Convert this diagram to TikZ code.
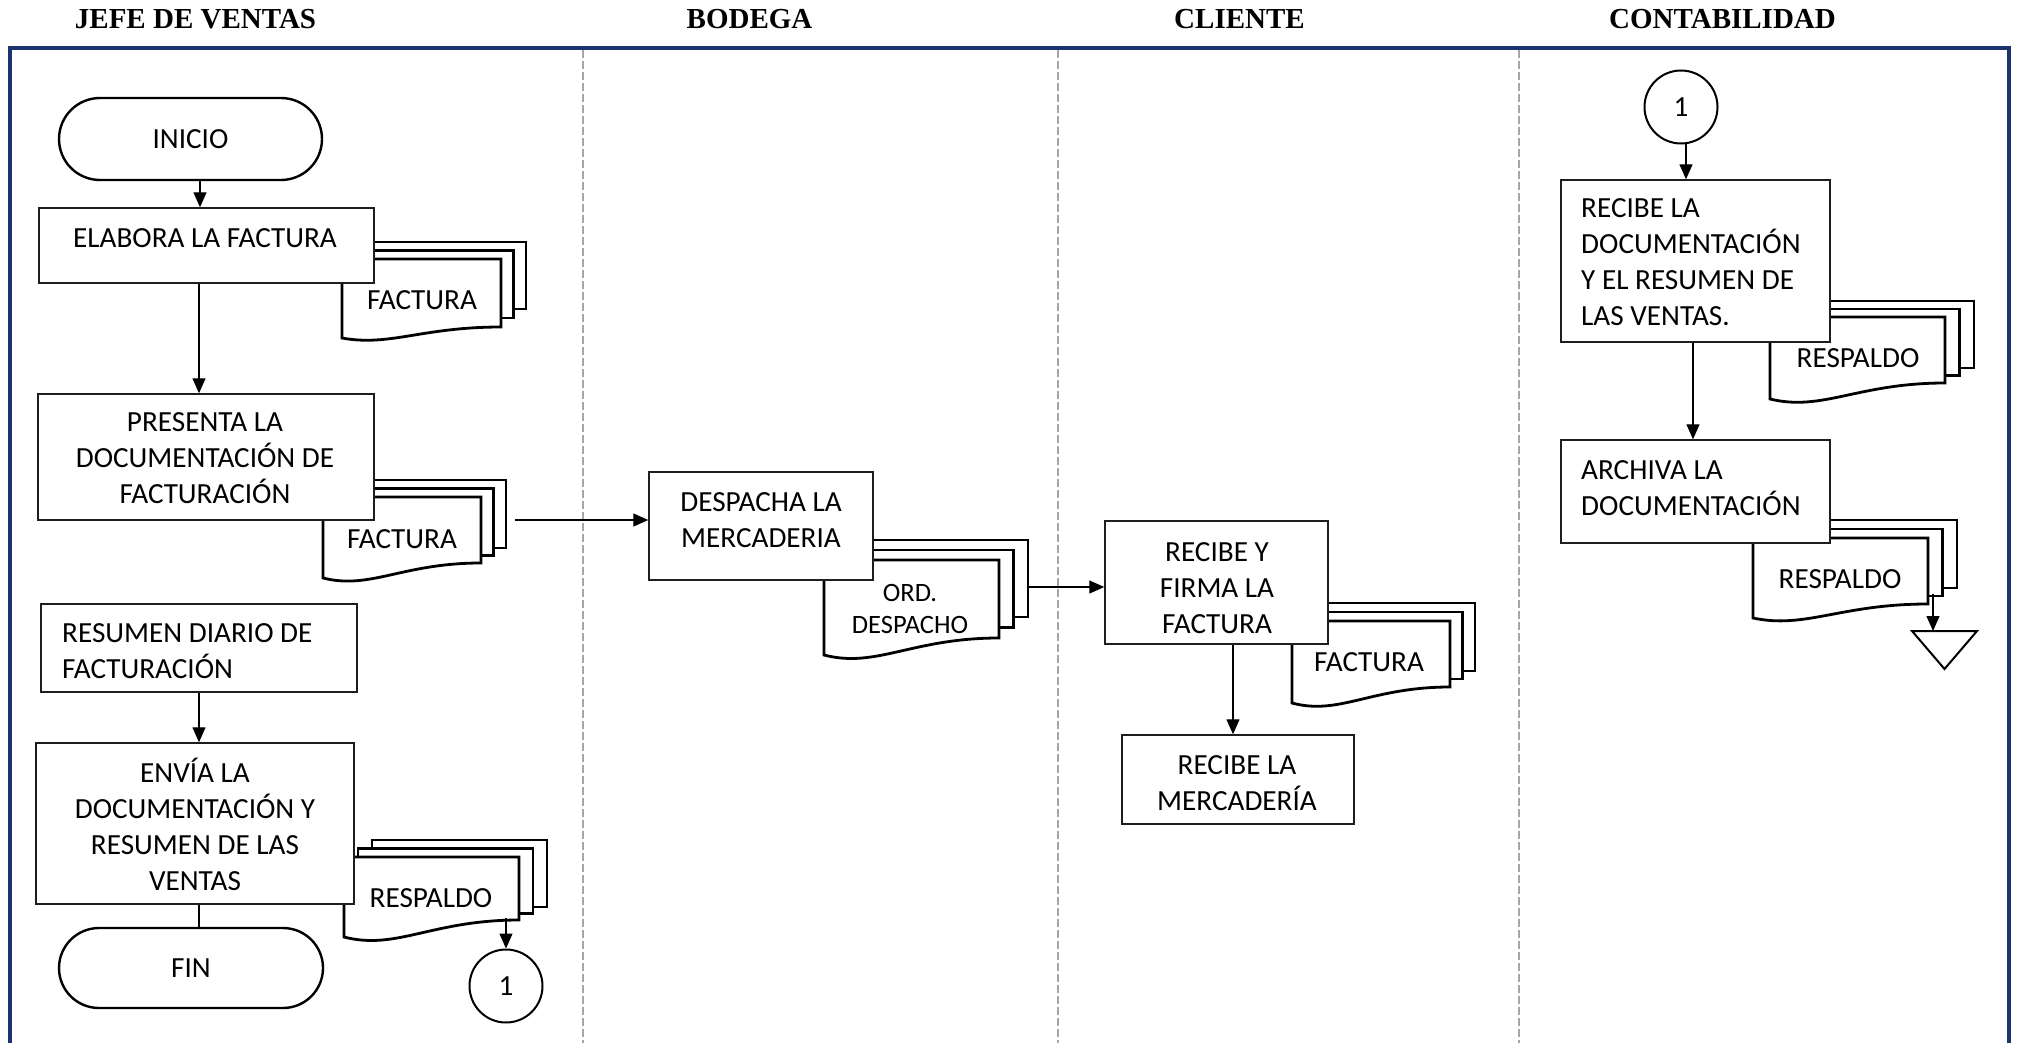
\documentclass[tikz,border=0pt]{standalone}
\usepackage{fontspec}
\setmainfont{Carlito}
\newfontfamily\hdrfont{Liberation Serif}
\usetikzlibrary{arrows.meta,calc}
\definecolor{navy}{RGB}{28,52,110}
\definecolor{lanegray}{RGB}{166,166,166}
\definecolor{ink}{RGB}{30,30,30}
% strut fixing the first baseline 26pt below the top of a text node
\newcommand\tst{\rule{0pt}{26pt}}
\newcommand\bx{\fontsize{29.2}{36}\selectfont}
\newcommand\bxs{\fontsize{26.5}{32}\selectfont}
% stack of three documents: #1 left, #2 top, #3 right, #4 right bottom,
% #5 left bottom, #6 x step, #7 y step, #8 bottom step of the back sheets
\newcommand\docstack[8]{%
  \foreach \k in {2,1}{%
    \draw[doc] ({#1+\k*#6},{#2-\k*#7}) rectangle ({#3+\k*#6},{#4-\k*#8});
  }%
  \draw[doc] (#1,#2) -- (#3,#2) -- (#3,#4)
    .. controls ({#3-0.5*(#3-#1)},#4) and ({#1+0.3*(#3-#1)},{#5+0.8*(#5-#4)}) .. (#1,#5) -- cycle;
}
\begin{document}
\begin{tikzpicture}[x=1pt,y=-1pt,
  hdr/.style={font=\hdrfont\bfseries\fontsize{29}{34}\selectfont, anchor=base, inner sep=0pt},
  proc/.style={draw=ink, line width=1.4pt, fill=white, inner sep=0pt},
  term/.style={draw=black, line width=2.4pt, fill=white, inner sep=0pt, font=\bx},
  conn/.style={circle, draw=black, line width=2pt, fill=white, minimum size=73pt, inner sep=0pt, font=\bx},
  txt/.style={inner sep=0pt, font=\bx},
  doc/.style={draw=black, line width=2.8pt, fill=white, line join=miter},
  arr/.style={draw=black, line width=1.3pt, -{Triangle[length=15pt,width=13pt]}},
  link/.style={draw=black, line width=1.3pt},
  frame/.style={draw=navy, line width=3.3pt},
  lane/.style={draw=lanegray, line width=2.7pt, dash pattern=on 8pt off 3pt}]
\useasboundingbox (0,0) rectangle (2018,1043);

% lane titles
\node[hdr] (h-jefe) at (195.5,29) {JEFE DE VENTAS};
\node[hdr] (h-bod) at (749.5,29) {BODEGA};
\node[hdr] (h-cli) at (1239.5,29) {CLIENTE};
\node[hdr] (h-cont) at (1722.5,29) {CONTABILIDAD};

% lane separators and frame
\draw[lane] (583,50) -- (583,1043);
\draw[lane] (1058,50) -- (1058,1043);
\draw[lane] (1519,50) -- (1519,1043);
\draw[frame] (10,1043) -- (10,48) -- (2009,48) -- (2009,1043);

% document stacks (drawn below the process boxes)
\docstack{342}{259}{501}{327}{338}{12.5}{8.5}{9}
\docstack{323}{497}{481}{563}{578}{12.5}{8.5}{7.5}
\docstack{824}{560}{999}{638}{655}{14.5}{10}{10.5}
\docstack{1292}{621}{1450}{687}{703}{12.5}{9}{8}
\docstack{344}{857}{519}{920}{937}{14}{8.5}{6.5}
\docstack{1770}{317}{1945}{383}{399}{14.5}{8}{7.5}
\docstack{1753}{538}{1928}{604}{618}{14.5}{9}{8}

% JEFE DE VENTAS
\node[term, minimum width=263pt, minimum height=82pt, rounded corners=41pt] (inicio) at (190.5,139) {INICIO};
\node[proc, minimum width=335pt, minimum height=75pt] (elab) at (206.5,245.5) {};
\node[proc, minimum width=336pt, minimum height=126pt] (pres) at (206,457) {};
\node[proc, minimum width=316pt, minimum height=88pt] (resum) at (199,648) {};
\node[proc, minimum width=318pt, minimum height=161pt] (envia) at (195,823.5) {};
\node[term, minimum width=264pt, minimum height=80pt, rounded corners=40pt] (fin) at (191,968) {FIN};
\node[conn] (c1a) at (506,986) {1};

% BODEGA
\node[proc, minimum width=224pt, minimum height=108pt] (desp) at (761,526) {};

% CLIENTE
\node[proc, minimum width=223pt, minimum height=123pt] (firma) at (1216.5,582.5) {};
\node[proc, minimum width=232pt, minimum height=89pt] (merc) at (1238,779.5) {};

% CONTABILIDAD
\node[conn] (c1b) at (1681,107) {1};
\node[proc, minimum width=269pt, minimum height=162pt] (recdoc) at (1695.5,261) {};
\node[proc, minimum width=269pt, minimum height=103pt] (arch) at (1695.5,491.5) {};
\coordinate (tri-l) at (1912,631);
\coordinate (tri-r) at (1977,631);
\coordinate (tri-b) at (1944.5,669);
\draw[black, line width=2pt, line join=miter] (tri-l) -- (tri-r) -- (tri-b) -- cycle;

% texts
\node[txt, anchor=north] (t-elab) at (205,221) {\tst ELABORA LA FACTURA};
\node[txt, anchor=north] (t-doc1) at (422,283) {\tst FACTURA};
\node[txt, anchor=north, align=center] (t-pres) at (205,405) {\tst PRESENTA LA\\DOCUMENTACIÓN DE\\FACTURACIÓN};
\node[txt, anchor=north] (t-doc2) at (402,522) {\tst FACTURA};
\node[txt, anchor=north west, align=left] (t-resum) at (62,616) {\tst RESUMEN DIARIO DE\\FACTURACIÓN};
\node[txt, anchor=north, align=center] (t-envia) at (195,756) {\tst ENVÍA LA\\DOCUMENTACIÓN Y\\RESUMEN DE LAS\\VENTAS};
\node[txt, anchor=north] (t-doc5) at (431,881) {\tst RESPALDO};
\node[txt, anchor=north, align=center] (t-desp) at (761,485) {\tst DESPACHA LA\\MERCADERIA};
\node[txt, anchor=north, align=center, font=\bxs] (t-ord) at (910,575) {\tst ORD.\\DESPACHO};
\node[txt, anchor=north, align=center] (t-firma) at (1217,535) {\tst RECIBE Y\\FIRMA LA\\FACTURA};
\node[txt, anchor=north] (t-doc4) at (1369,645) {\tst FACTURA};
\node[txt, anchor=north, align=center] (t-merc) at (1237,748) {\tst RECIBE LA\\MERCADERÍA};
\node[txt, anchor=north west, align=left] (t-recdoc) at (1581,191) {\tst RECIBE LA\\DOCUMENTACIÓN\\Y EL RESUMEN DE\\LAS VENTAS.};
\node[txt, anchor=north] (t-doc6) at (1858,341) {\tst RESPALDO};
\node[txt, anchor=north west, align=left] (t-arch) at (1581,453) {\tst ARCHIVA LA\\DOCUMENTACIÓN};
\node[txt, anchor=north] (t-doc7) at (1840,562) {\tst RESPALDO};

% connectors
\coordinate (x-ini) at (200,0);
\coordinate (x-jefe) at (199,0);
\coordinate (x-firma) at (1233,0);
\coordinate (x-c1b) at (1686,0);
\coordinate (x-rec) at (1693,0);
\coordinate (o-pres) at (515,520);
\coordinate (o-ord) at (1028,587);
\coordinate (o-resp) at (506,918);
\coordinate (o-resp2) at (1933,594);

\draw[arr] (inicio.south -| x-ini) -- (elab.north -| x-ini);
\draw[arr] (elab.south -| x-jefe) -- (pres.north -| x-jefe);
\draw[arr] (o-pres) -- (desp.west |- o-pres);
\draw[arr] (o-ord) -- (firma.west |- o-ord);
\draw[arr] (firma.south -| x-firma) -- (merc.north -| x-firma);
\draw[arr] (resum.south -| x-jefe) -- (envia.north -| x-jefe);
\draw[link] (envia.south -| x-jefe) -- (fin.north -| x-jefe);
\draw[arr] (o-resp) -- (c1a.north);
\draw[arr] (c1b.south -| x-c1b) -- (recdoc.north -| x-c1b);
\draw[arr] (recdoc.south -| x-rec) -- (arch.north -| x-rec);
\draw[arr] (o-resp2) -- (o-resp2 |- tri-l);
\end{tikzpicture}
\end{document}
